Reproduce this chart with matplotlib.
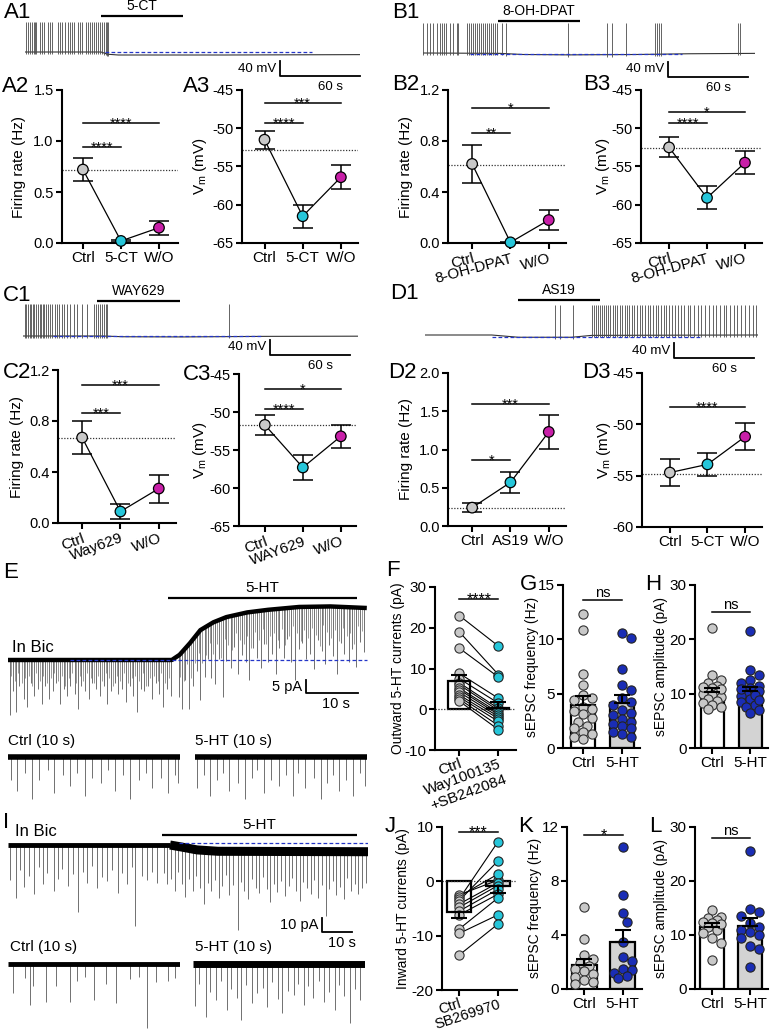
import numpy as np
import matplotlib
matplotlib.use("Agg")
import matplotlib.pyplot as plt

plt.rcParams['font.family'] = ['Liberation Sans', 'DejaVu Sans']
plt.rcParams['axes.unicode_minus'] = False
plt.rcParams['mathtext.fontset'] = 'custom'
plt.rcParams['mathtext.rm'] = 'Liberation Sans'
plt.rcParams['mathtext.it'] = 'Liberation Sans:italic'

# ---------------- data ----------------
GREY, CYAN, MAG, BLUE = '#c8c8c8', '#26c6da', '#c81fa8', '#1a2db5'
DOT_COLORS = [GREY, CYAN, MAG]

# current-clamp traces (s, mV)
A1_SPIKES = [1, 2.5, 4, 5, 6.5, 7.5, 8.5, 11.5, 13, 14.5, 17, 18.5, 20.5, 25, 26.5, 28, 30,
             32, 33.5, 35, 37, 39.5, 41, 42.5, 46, 47.5, 49, 50.5, 52, 53.5, 55, 56.5, 58,
             59.5, 60.5, 61.5, 62.5]
A1_BASE_T = [0, 57, 62, 70, 150, 251]
A1_BASE_V = [-52, -52, -58, -60, -60, -59]
B1_SPIKES = [0.3, 2.7, 5.2, 7.5, 10.2, 12.7, 14.5, 16, 17.5, 20.2, 22.5, 25.2, 26.5, 33, 34.5,
             36, 37.5, 39, 40.5, 42, 43.5, 45, 46.5, 48, 49.5, 51, 52.5, 54, 55.5, 59, 62,
             108.5, 137.7, 141.5, 152, 174, 175.5, 177, 178.5, 236, 237.5]
B1_BASE_T = [0, 58, 75, 110, 160, 200, 249]
B1_BASE_V = [-52, -53, -56, -57, -56, -54, -53]
C1_SPIKES = [1.5, 2.5, 3.5, 5, 6, 7.5, 8.5, 10, 11, 12.5, 13.5, 15, 16, 17.5, 18.5, 20, 21.5,
             24, 25.5, 27, 29, 31, 33, 35, 38.2, 40.5, 44.2, 48, 53.2, 54.5, 56, 57.5, 59,
             60.5, 62, 63, 154.5]
C1_BASE_T = [0, 60, 75, 120, 180, 251]
C1_BASE_V = [-52, -52, -54, -54.5, -53, -52.5]
D1_SPIKES = [97.5, 101, 111, 125, 126.5, 128, 129.5, 131, 132.5, 134, 135.5, 137, 139, 141,
             142.5, 144, 146, 148, 150, 151.5, 153, 155, 157, 159, 161, 163, 165, 167, 169,
             171, 173, 175, 177, 179, 181, 183, 185, 187.5, 190, 192, 194, 197, 199, 202, 205,
             207, 210, 213, 216, 218, 221, 224, 226, 229, 232, 234, 237, 240, 243, 246, 248.5]
D1_BASE_T = [0, 50, 70, 110, 125, 250]
D1_BASE_V = [-55, -55, -61, -61, -56, -55]

# dot panels: means, sem
A2_MEAN, A2_SEM = [0.72, 0.02, 0.15], [0.11, 0.01, 0.07]
A3_MEAN, A3_SEM = [-51.5, -61.5, -56.4], [1.2, 1.5, 1.6]
B2_MEAN, B2_SEM = [0.62, 0.005, 0.18], [0.15, 0.005, 0.08]
B3_MEAN, B3_SEM = [-52.5, -59.1, -54.5], [1.3, 1.5, 1.5]
C2_MEAN, C2_SEM = [0.67, 0.09, 0.27], [0.13, 0.06, 0.11]
C3_MEAN, C3_SEM = [-51.7, -57.3, -53.2], [1.3, 1.6, 1.5]
D2_MEAN, D2_SEM = [0.24, 0.57, 1.23], [0.06, 0.14, 0.22]
D3_MEAN, D3_SEM = [-54.7, -53.9, -51.2], [1.3, 1.1, 1.3]

# voltage-clamp traces (s, pA)
E_BASE_T = [0, 31.5, 33, 35, 37, 39.5, 42, 46, 50, 56, 62, 69]
E_BASE_I = [0, 0, 2, 6.5, 11.5, 14.5, 16.5, 18.3, 19.3, 20.4, 20.6, 20]
E_EV_T = [0.3, 1.0, 1.6, 2.2, 3.0, 3.6, 4.4, 5.0, 5.8, 6.5, 7.1, 7.9, 8.6, 9.2, 10.0, 10.7,
          11.3, 12.0, 12.8, 13.5, 14.1, 14.9, 15.6, 16.2, 17.0, 17.7, 18.4, 19.1, 19.9, 20.6,
          21.2, 22.0, 22.7, 23.4, 24.1, 24.9, 25.6, 26.2, 27.0, 27.7, 28.4, 29.1, 29.9, 30.6,
          31.3,
          32.8, 33.5, 34.1, 34.9, 35.6, 36.3, 37.0, 37.8, 38.5, 39.1, 39.9, 40.6, 41.3, 42.0,
          42.8, 43.5, 44.2, 45.0, 45.7, 46.4, 47.1, 47.9, 48.6, 49.3, 50.0, 50.8, 51.5, 52.2,
          53.0, 53.7, 54.4, 55.2, 55.9, 56.6, 57.4, 58.1, 58.8, 59.6, 60.3, 61.0, 61.8, 62.5,
          63.2, 64.0, 64.7, 65.5, 66.2, 67.0, 67.7, 68.4]
E_EV_A = [21, 12, 20, 10, 15, 18, 9, 14, 11, 17, 10, 15, 12, 9, 17, 11, 14, 10, 13, 19, 10,
          12, 15, 9, 11, 14, 10, 17, 12, 9, 13, 11, 16, 10, 14, 20, 11, 12, 10, 15, 9, 13, 18,
          11, 14,
          16, 22, 12, 25, 18, 14, 27, 19, 13, 21, 24, 15, 30, 17, 20, 12, 23, 16, 19, 26, 14,
          18, 22, 13, 20, 17, 25, 15, 19, 12, 21, 28, 16, 14, 20, 18, 24, 13, 17, 22, 15, 19,
          26, 14, 18, 21, 16, 23, 13, 17]
# smaller, denser events of the same recording
E_EV2_T = [0.65, 1.3, 1.95, 2.6, 3.3, 4.0, 4.7, 5.4, 6.1, 6.8, 7.5, 8.2, 8.9, 9.6, 10.35, 11.0,
           11.65, 12.4, 13.15, 13.8, 14.5, 15.25, 15.9, 16.6, 17.35, 18.05, 18.75, 19.5, 20.25,
           20.9, 21.6, 22.35, 23.05, 23.75, 24.5, 25.25, 25.9, 26.6, 27.35, 28.05, 28.75, 29.5,
           30.25, 30.95,
           33.15, 33.8, 34.5, 35.25, 35.95, 36.65, 37.4, 38.15, 38.8, 39.5, 40.25, 40.95,
           41.65, 42.4, 43.15, 43.85, 44.6, 45.35, 46.05, 46.75, 47.5, 48.25, 48.95, 49.65,
           50.4, 51.15, 51.85, 52.6, 53.35, 54.05, 54.8, 55.55, 56.25, 57.0, 57.75, 58.45,
           59.2, 59.95, 60.65, 61.4, 62.15, 62.85, 63.6, 64.35, 65.1, 65.85, 66.6, 67.35, 68.05]
E_EV2_A = [6, 8, 5, 9, 7, 6, 10, 5, 8, 6, 9, 7, 5, 8, 6, 10, 7, 5, 9, 6, 8, 5, 7, 9, 6, 8, 5,
           7, 10, 6, 8, 5, 9, 7, 6, 8, 5, 10, 7, 6, 8, 5, 9, 7,
           9, 12, 7, 14, 10, 8, 13, 11, 7, 12, 9, 15, 8, 11, 13, 7, 10, 12, 9, 14, 8, 11, 7,
           13, 10, 9, 12, 8, 14, 11, 7, 10, 13, 9, 12, 8, 11, 15, 7, 10, 12, 9, 13, 8, 11, 10,
           14, 7, 9]
E_CTRL10_T = [0.2, 0.55, 1.0, 1.4, 1.8, 2.3, 2.7, 3.2, 3.6, 4.0, 4.5, 4.9, 5.4, 5.8, 6.2, 6.7,
              7.1, 7.6, 8.0, 8.4, 8.9, 9.3, 9.7, 9.9]
E_CTRL10_A = [9, 13, 6, 16, 9, 5, 14, 7, 11, 6, 15, 8, 10, 5, 13, 7, 16, 9, 6, 12, 8, 14, 7, 10]
E_HT10_T = [0.1, 0.5, 0.9, 1.3, 1.6, 2.0, 2.5, 2.9, 3.3, 3.6, 4.0, 4.4, 4.9, 5.3, 5.7, 6.0,
            6.4, 6.9, 7.3, 7.7, 8.0, 8.4, 8.8, 9.2, 9.6, 9.9]
E_HT10_A = [12, 7, 15, 9, 6, 13, 10, 16, 8, 5, 14, 9, 11, 7, 15, 6, 12, 8, 16, 10, 7, 13, 9,
            15, 6, 11]

I_BASE_T = [0, 54, 58, 63, 70, 120]
I_BASE_I = [0, 0, -1.5, -3.5, -4.5, -4.8]
I_EV_T = [0.8, 2.5, 4.0, 5.2, 7.0, 8.5, 10.3, 11.5, 13.0, 15.2, 16.8, 18.0, 20.1, 21.6, 23.3,
          25.0, 26.4, 28.1, 29.8, 31.2, 33.0, 34.6, 36.5, 38.0, 39.6, 41.3, 42.3, 44.7, 46.2,
          48.0, 49.8,
          52.0, 53.1, 54.3, 55.6, 56.8, 58.0, 59.1, 60.4, 61.6, 62.8, 64.0, 65.3, 66.5, 67.7,
          68.9, 70.2, 71.4, 72.6, 73.8, 75.1, 76.7, 77.6, 78.8, 80.0, 81.3, 82.5, 83.7, 84.9,
          86.2, 87.4, 88.6, 89.8, 91.1, 92.3, 93.5, 94.7, 96.0, 97.2, 98.4, 99.6, 100.9, 102.1,
          103.3, 104.5, 106.0, 107.0, 108.2, 109.4, 110.6, 111.9, 113.1, 114.3, 115.5, 116.8,
          118.0, 119.2]
I_EV_A = [25, 38, 18, 30, 22, 35, 16, 28, 20, 33, 24, 17, 29, 21, 48, 19, 27, 15, 31, 23, 26,
          18, 34, 20, 28, 16, 58, 22, 25, 19, 27,
          20, 28, 24, 32, 18, 26, 35, 22, 30, 19, 27, 38, 23, 29, 21, 33, 25, 17, 31, 24, 56,
          22, 28, 34, 20, 26, 30, 18, 27, 36, 23, 29, 21, 32, 25, 19, 28, 35, 22, 26, 30, 20,
          33, 24, 46, 27, 21, 31, 25, 34, 19, 28, 23, 30, 26, 22]
I_CTRL10_T = [0.3, 1.0, 1.3, 1.45, 2.2, 2.8, 3.6, 4.0, 4.5, 5.0, 5.7, 6.3, 7.1, 7.6, 8.1, 8.6,
              9.3, 9.7]
I_CTRL10_A = [21, 10, 29, 16, 27, 16, 27, 12, 9, 26, 14, 28, 11, 9, 46, 13, 12, 10]
I_HT10_T = [0.1, 0.35, 0.75, 1.0, 1.35, 1.6, 1.95, 2.2, 2.55, 2.8, 3.1, 3.45, 3.7, 4.05, 4.3,
            4.6, 4.95, 5.2, 5.5, 5.85, 6.1, 6.45, 6.7, 7.0, 7.35, 7.6, 7.9, 8.25, 8.5, 8.8,
            9.15, 9.4, 9.7]
I_HT10_A = [30, 14, 38, 20, 26, 12, 33, 18, 24, 40, 15, 28, 21, 17, 31, 13, 25, 35, 19, 22,
            14, 29, 16, 24, 12, 27, 20, 33, 15, 23, 42, 18, 26]

# F, J paired currents (pA)
F_CTRL = [23, 19, 15, 8.8, 7.5, 6.5, 6, 5.2, 4.8, 4.2, 3.5, 3, 2.5, 2]
F_DRUG = [15.5, 8.5, 7.9, 2.7, 1.5, 0.2, -0.3, -0.8, -1.3, -1.8, -2.3, -3, -4, -5]
F_BAR, F_SEM = [6.9, 0.3], [1.6, 1.4]
J_CTRL = [-2.5, -2.8, -3.3, -3.6, -4.2, -4.8, -5.5, -6.2, -8.8, -9.6, -13.6]
J_DRUG = [0.2, 1.3, 7.2, 3.7, -0.3, -0.8, -1.5, -2.4, -3.1, -6.2, -7.9]
J_BAR, J_SEM = [-5.7, -0.9], [1.0, 1.2]

# G, H, K, L sEPSC
G_CTRL = [12.3, 10.9, 6.8, 5.8, 4.9, 4.4, 3.8, 3.4, 3.1, 2.8, 2.4, 2.0, 1.8, 1.5, 1.3, 1.0,
          0.8, 4.6, 3.6]
G_HT = [10.6, 10.1, 7.3, 5.8, 5.3, 4.6, 4.2, 3.5, 3.2, 3.0, 2.7, 2.4, 2.2, 2.0, 1.8, 1.5,
        1.3, 1.0, 4.0]
G_BAR, G_SEM = [4.0, 4.1], [0.8, 0.8]
H_CTRL = [22.1, 13.4, 12.5, 12, 11.5, 11, 10.5, 10.2, 10, 9.7, 9.3, 9, 8.7, 8.3, 8, 7.6, 7.2,
          10.8, 11.2]
H_HT = [21.5, 14.3, 13.5, 12.5, 12, 11.5, 11, 10.5, 10, 9.5, 9, 8.5, 8, 7.5, 7, 6.5, 10.8,
        9.8, 8.8]
H_BAR, H_SEM = [10.3, 10.4], [0.8, 0.9]
K_CTRL = [6.1, 3.7, 2.5, 2.2, 1.9, 1.7, 1.5, 1.3, 1.1, 0.9, 0.7, 0.5, 0.4]
K_HT = [10.5, 7.0, 5.6, 5.0, 3.5, 2.4, 2.1, 1.5, 1.4, 1.2, 1.0, 0.8]
K_BAR, K_SEM = [1.8, 3.5], [0.45, 0.85]
L_CTRL = [14.6, 13.4, 13.1, 12.8, 12.5, 12.2, 11.5, 10.9, 10.3, 9.4, 8.5, 5.4, 12.0]
L_HT = [25.6, 14.8, 14.3, 13.5, 12.3, 11.5, 11, 10.5, 10, 9.5, 8, 7.5, 4.1]
L_BAR, L_SEM = [11.5, 11.6], [0.7, 1.5]

# ---------------- helpers ----------------
W, H = 770, 1032
fig = plt.figure(figsize=(W / 100, H / 100), dpi=100)


def add_box(x0, y0, x1, y1):
    return fig.add_axes([x0 / W, 1 - y1 / H, (x1 - x0) / W, (y1 - y0) / H])


def ftext(x, y, s, **kw):
    kw.setdefault('va', 'center')
    fig.text(x / W, 1 - y / H, s, **kw)


def to_data(ax, x, y):
    return ax.transData.inverted().transform((x, H - y))


def trace_ax(x0, x1, y0, y1, pps, ppu, yref, vref):
    ax = add_box(x0, y0, x1, y1)
    ax.set_xlim(0, (x1 - x0) / pps)
    ax.set_ylim(vref - (y1 - yref) / ppu, vref + (yref - y0) / ppu)
    ax.axis('off')
    return ax


def scalebar(ax, x, y, dx, dy, ylab, xlab, fs=9.5, xoff=10):
    t0, v0 = to_data(ax, x, y)
    ax.plot([t0, t0, t0 + dx], [v0 + dy, v0, v0], color='k', lw=1.3, clip_on=False)
    hx = ax.transData.transform((t0 + dx, v0))[0] - x
    vy = H - ax.transData.transform((t0, v0 + dy))[1]
    ftext(x - 4, (y + vy) / 2, ylab, ha='right', fontsize=fs)
    ftext(x + hx / 2 + xoff, y + 11, xlab, ha='center', fontsize=fs)


def drugbar(ax, t0, t1, ypx, label, fs=10):
    _, v = to_data(ax, 0, ypx)
    ax.plot([t0, t1], [v, v], color='k', lw=1.6, clip_on=False, solid_capstyle='butt')
    ax.annotate(label, ((t0 + t1) / 2, v), xytext=(0, 2.5), textcoords='offset points',
                ha='center', va='bottom', fontsize=fs)


def blue_dash(ax, t0, t1, v):
    ax.plot([t0, t1], [v, v], color='#2436c8', ls=(0, (3, 1.8)), lw=0.9, zorder=5)


def spike_trace(ax, bt, bv, spikes, peak):
    ax.plot(bt, bv, color='#333', lw=0.8)
    vb = np.interp(spikes, bt, bv)
    ax.vlines(spikes, vb - 5, peak, color='#4a4a4a', lw=0.6)


def events(ax, bt, bi, ev_t, ev_a, color='#5a5a5a'):
    n = min(len(ev_t), len(ev_a))
    ib = np.interp(ev_t[:n], bt, bi)
    ax.vlines(ev_t[:n], ib - np.asarray(ev_a[:n]), ib, color=color, lw=0.6)


def baseline(ax, bt, bi, lw=3.2, lw2=None, t_switch=None):
    bt, bi = np.asarray(bt, float), np.asarray(bi, float)
    if t_switch is None:
        ax.plot(bt, bi, color='k', lw=lw, solid_capstyle='butt')
        return
    k = int(np.searchsorted(bt, t_switch, side='right'))
    ax.plot(bt[:k], bi[:k], color='k', lw=lw, solid_capstyle='butt')
    ax.plot(bt[k - 1:], bi[k - 1:], color='k', lw=lw2, solid_capstyle='butt')


def style(ax, fs):
    for s in ['top', 'right']:
        ax.spines[s].set_visible(False)
    for s in ['left', 'bottom']:
        ax.spines[s].set_linewidth(1.5)
    ax.tick_params(width=1.5, length=4.5, labelsize=fs, pad=1.5)


def sigbar(ax, i, j, y, s, fs=10):
    ax.plot([i, j], [y, y], color='k', lw=1.1, clip_on=False)
    if s == 'ns':
        ax.annotate(s, ((i + j) / 2, y), xytext=(0, 2), textcoords='offset points',
                    ha='center', va='baseline', fontsize=fs)
    else:
        ax.annotate(s, ((i + j) / 2, y), xytext=(0, -3.5), textcoords='offset points',
                    ha='center', va='baseline', fontsize=fs + 1)


def set_ylab(ax, box, text, xpx, fs):
    ax.set_ylabel(text, fontsize=fs, va='center')
    ax.yaxis.set_label_coords((xpx - box[0]) / (box[2] - box[0]), 0.5)


def set_xlabels(ax, labels, rot, fs):
    ax.set_xticks(np.arange(len(labels)))
    if rot:
        ax.set_xticklabels(labels, rotation=rot, ha='right', rotation_mode='anchor',
                           fontsize=fs, ma='right')
    else:
        ax.set_xticklabels(labels, fontsize=fs)


def dot_panel(box, xlim, ylim, yticks, yfmt, labels, means, errs, ref, sigs, ylabel, ylab_x,
              rot=0):
    ax = add_box(*box)
    style(ax, 10.5)
    x = np.arange(len(means))
    ax.axhline(ref, color='#333', ls=(0, (1, 1.3)), lw=0.9, zorder=1)
    ax.plot(x, means, color='k', lw=0.9, zorder=2)
    ax.errorbar(x, means, yerr=errs, fmt='none', ecolor='k', elinewidth=1.1, capsize=7,
                capthick=1.1, zorder=3)
    ax.scatter(x, means, s=58, c=DOT_COLORS, edgecolors='k', linewidths=0.9, zorder=4,
               clip_on=False)
    ax.set_xlim(xlim)
    ax.set_ylim(ylim)
    ax.set_yticks(yticks)
    ax.set_yticklabels([yfmt.format(v) for v in yticks])
    set_xlabels(ax, labels, rot, 11)
    for i, j, y, s in sigs:
        sigbar(ax, i, j, y, s, 9.5)
    set_ylab(ax, box, ylabel, ylab_x, 11)
    return ax


def swarm(vals, xc, ppx, ppy, diam=9.0, maxw=13.0):
    vals = np.asarray(vals, float)
    placed, xs = [], np.zeros(len(vals))
    steps = [0.0]
    for k in range(1, 8):
        steps += [k * diam * 0.5, -k * diam * 0.5]
    steps = [s for s in steps if abs(s) <= maxw]
    for i in np.argsort(vals)[::-1]:
        y = vals[i] * ppy
        best = None
        for off in steps:
            if all((off - px) ** 2 + (y - py) ** 2 >= (diam * 0.95) ** 2 for px, py in placed):
                best = off
                break
        if best is None:
            best = max(steps, key=lambda o: min((o - px) ** 2 + (y - py) ** 2
                                                for px, py in placed))
        placed.append((best, y))
        xs[i] = xc + best / ppx
    return xs


def bar_panel(box, xlim, ylim, yticks, labels, bars, sems, ctrl, drug, drug_color, bar_color,
              sig, ylabel, ylab_x, rot=0, paired=False, width=0.6, xfs=11):
    ax = add_box(*box)
    style(ax, 11)
    ax.set_xlim(xlim)
    ax.set_ylim(ylim)
    ppx = (box[2] - box[0]) / (xlim[1] - xlim[0])
    ppy = (box[3] - box[1]) / (ylim[1] - ylim[0])
    x = np.arange(2)
    ax.bar(x, bars, width=width, color=['white', bar_color], edgecolor='k', linewidth=1.6,
           zorder=1)
    if paired:
        ax.axhline(0, color='#333', ls=(0, (1, 1.3)), lw=0.9, zorder=1.5)
        for a, b in zip(ctrl, drug):
            ax.plot([0, 1], [a, b], color='k', lw=0.8, zorder=2)
        xc = np.zeros(len(ctrl))
        xd = np.ones(len(drug))
    else:
        xc = swarm(ctrl, 0, ppx, ppy)
        xd = swarm(drug, 1, ppx, ppy)
    ax.scatter(xc, ctrl, s=44, c=GREY, edgecolors='#333', linewidths=0.8, zorder=3,
               clip_on=False)
    ax.scatter(xd, drug, s=44, c=drug_color, edgecolors='#222', linewidths=0.8, zorder=3,
               clip_on=False)
    lo = [s if b < 0 else 0 for b, s in zip(bars, sems)]
    hi = [s if b >= 0 else 0 for b, s in zip(bars, sems)]
    ax.errorbar(x, bars, yerr=[lo, hi], fmt='none', ecolor='k', elinewidth=1.5, capsize=6,
                capthick=1.5, zorder=4)
    ax.set_yticks(yticks)
    set_xlabels(ax, labels, rot, xfs)
    if rot:
        ax.tick_params(axis='x', pad=0.5)
    sigbar(ax, 0, 1, sig[0], sig[1], 10.5)
    set_ylab(ax, box, ylabel, ylab_x, 10)
    return ax


VM = 'V$_\\mathrm{m}$ (mV)'
FR = 'Firing rate (Hz)'
PPS_CC, PPU_CC = 80 / 60, 15 / 40

# ---------------- A ----------------
ax = trace_ax(25, 360, 12, 80, PPS_CC, PPU_CC, 52, -52)
spike_trace(ax, A1_BASE_T, A1_BASE_V, A1_SPIKES, 28)
blue_dash(ax, 60, 215, -52)
drugbar(ax, 57, 118.5, 16, '5-CT')
scalebar(ax, 280, 76, 60, 40, '40 mV', '60 s')

dot_panel((62, 90, 178, 243), (-0.55, 2.5), (0, 1.5), [0, 0.5, 1.0, 1.5], '{:.1f}',
          ['Ctrl', '5-CT', 'W/O'], A2_MEAN, A2_SEM, 0.72,
          [(0, 1, 0.94, '****'), (0, 2, 1.18, '****')], FR, 19)
dot_panel((242, 90, 358, 243), (-0.59, 2.45), (-65, -45), [-65, -60, -55, -50, -45], '{:.0f}',
          ['Ctrl', '5-CT', 'W/O'], A3_MEAN, A3_SEM, -52.8,
          [(0, 1, -49.3, '****'), (0, 2, -46.7, '***')], VM, 200)

# ---------------- B ----------------
ax = trace_ax(423, 755, 12, 80, PPS_CC, PPU_CC, 53, -52)
spike_trace(ax, B1_BASE_T, B1_BASE_V, B1_SPIKES, 28)
blue_dash(ax, 35, 194, -54.5)
drugbar(ax, 56, 118, 21, '8-OH-DPAT')
scalebar(ax, 668, 77, 60, 40, '40 mV', '60 s')

dot_panel((448, 90, 566, 243), (-0.63, 2.45), (0, 1.2), [0, 0.4, 0.8, 1.2], '{:.1f}',
          ['Ctrl', '8-OH-DPAT', 'W/O'], B2_MEAN, B2_SEM, 0.61,
          [(0, 1, 0.865, '**'), (0, 2, 1.056, '*')], FR, 406, rot=15)
dot_panel((641, 90, 762, 243), (-0.74, 2.45), (-65, -45), [-65, -60, -55, -50, -45], '{:.0f}',
          ['Ctrl', '8-OH-DPAT', 'W/O'], B3_MEAN, B3_SEM, -52.6,
          [(0, 1, -49.3, '****'), (0, 2, -47.9, '*')], VM, 603, rot=15)

# ---------------- C ----------------
ax = trace_ax(23, 358, 296, 356, PPS_CC, PPU_CC, 336, -52)
spike_trace(ax, C1_BASE_T, C1_BASE_V, C1_SPIKES, 33)
blue_dash(ax, 22.5, 180, -51)
drugbar(ax, 55.5, 117.8, 301, 'WAY629')
scalebar(ax, 270, 355, 60, 40, '40 mV', '60 s')

dot_panel((58, 370, 176, 523), (-0.63, 2.45), (0, 1.2), [0, 0.4, 0.8, 1.2], '{:.1f}',
          ['Ctrl', 'Way629', 'W/O'], C2_MEAN, C2_SEM, 0.67,
          [(0, 1, 0.865, '***'), (0, 2, 1.08, '***')], FR, 17, rot=20)
dot_panel((239, 374, 356, 526), (-0.68, 2.4), (-65, -45), [-65, -60, -55, -50, -45], '{:.0f}',
          ['Ctrl', 'WAY629', 'W/O'], C3_MEAN, C3_SEM, -51.7,
          [(0, 1, -49.6, '****'), (0, 2, -47.0, '*')], VM, 200, rot=20)

# ---------------- D ----------------
ax = trace_ax(425, 758, 296, 358, PPS_CC, PPU_CC, 335, -55)
spike_trace(ax, D1_BASE_T, D1_BASE_V, D1_SPIKES, 25)
blue_dash(ax, 50, 208, -61)
drugbar(ax, 70, 131, 300, 'AS19')
scalebar(ax, 674, 358, 60, 40, '40 mV', '60 s')

dot_panel((448, 373, 566, 526), (-0.63, 2.45), (0, 2.0), [0, 0.5, 1.0, 1.5, 2.0], '{:.1f}',
          ['Ctrl', 'AS19', 'W/O'], D2_MEAN, D2_SEM, 0.24,
          [(0, 1, 0.86, '*'), (0, 2, 1.6, '***')], FR, 406)
dot_panel((642, 373, 762, 527), (-0.74, 2.45), (-60, -45), [-60, -55, -50, -45], '{:.0f}',
          ['Ctrl', '5-CT', 'W/O'], D3_MEAN, D3_SEM, -54.8,
          [(0, 2, -48.3, '****')], VM, 604)

# ---------------- E ----------------
ax = trace_ax(8, 368, 575, 725, 5.2, 2.6, 660, 0)
events(ax, E_BASE_T, E_BASE_I, E_EV2_T, E_EV2_A, color='#8a8a8a')
events(ax, E_BASE_T, E_BASE_I, E_EV_T, E_EV_A)
baseline(ax, E_BASE_T, E_BASE_I, lw=3.2)
blue_dash(ax, 11.9, 69, 0)
drugbar(ax, 30.8, 67.1, 598, '5-HT', fs=11)
scalebar(ax, 306, 693, 10, 5, '5 pA', '10 s', fs=10.5, xoff=4)
ftext(12, 647, 'In Bic', fontsize=12)

ax = trace_ax(8, 180, 745, 810, 17.2, 2.6, 757, 0)
events(ax, [0, 10], [0, 0], E_CTRL10_T, E_CTRL10_A)
baseline(ax, [0, 10], [0, 0], lw=4)
ax = trace_ax(195, 368, 745, 810, 17.2, 2.6, 757, 0)
events(ax, [0, 10], [0, 0], E_HT10_T, E_HT10_A)
baseline(ax, [0, 10], [0, 0], lw=4)
ftext(8, 741, 'Ctrl (10 s)', fontsize=11)
ftext(195, 741, '5-HT (10 s)', fontsize=11)

# ---------------- I ----------------
ax = trace_ax(8, 368, 812, 945, 3.0, 1.4, 845, 0)
events(ax, I_BASE_T, I_BASE_I, I_EV_T, I_EV_A)
baseline(ax, I_BASE_T, I_BASE_I, lw=3.5, lw2=6.5, t_switch=54)
blue_dash(ax, 57, 120, 1.5)
drugbar(ax, 51.3, 116.3, 835, '5-HT', fs=11)
scalebar(ax, 322, 932, 10, 10, '10 pA', '10 s', fs=10.5, xoff=5)
ftext(15, 831, 'In Bic', fontsize=12)

ax = trace_ax(8, 180, 955, 1032, 17.2, 1.4, 964, 0)
events(ax, [0, 10], [0, 0], I_CTRL10_T, I_CTRL10_A)
baseline(ax, [0, 10], [0, 0], lw=3.5)
ax = trace_ax(193, 365, 955, 1032, 17.2, 1.4, 964, 0)
events(ax, [0, 10], [0, 0], I_HT10_T, I_HT10_A)
baseline(ax, [0, 10], [0, 0], lw=5)
ftext(10, 947, 'Ctrl (10 s)', fontsize=11)
ftext(195, 947, '5-HT (10 s)', fontsize=11)

# ---------------- F - L ----------------
bar_panel((435, 587, 516, 750), (-0.62, 1.45), (-10, 30), [-10, 0, 10, 20, 30],
          ['Ctrl', 'Way100135\n+SB242084'], F_BAR, F_SEM, F_CTRL, F_DRUG, CYAN, '#d9d9d9',
          (27, '****'), 'Outward 5-HT currents (pA)', 398, rot=20, paired=True, width=0.56)
bar_panel((563, 585, 640, 748), (-0.51, 1.46), (0, 15), [0, 5, 10, 15], ['Ctrl', '5-HT'],
          G_BAR, G_SEM, G_CTRL, G_HT, BLUE, '#d3d3d3', (13.6, 'ns'),
          'sEPSC frequency (Hz)', 532, width=0.62)
bar_panel((695, 585, 768, 748), (-0.45, 1.47), (0, 30), [0, 10, 20, 30], ['Ctrl', '5-HT'],
          H_BAR, H_SEM, H_CTRL, H_HT, BLUE, '#d3d3d3', (25, 'ns'),
          'sEPSC amplitude (pA)', 661, width=0.6)
bar_panel((442, 827, 517, 990), (-0.44, 1.5), (-20, 10), [-20, -10, 0, 10],
          ['Ctrl', 'SB269970'], J_BAR, J_SEM, J_CTRL, J_DRUG, CYAN, '#d9d9d9',
          (9, '***'), 'Inward 5-HT currents (pA)', 403, rot=18, paired=True, width=0.62,
          xfs=10.5)
bar_panel((567, 827, 642, 989), (-0.45, 1.5), (0, 12), [0, 4, 8, 12], ['Ctrl', '5-HT'],
          K_BAR, K_SEM, K_CTRL, K_HT, BLUE, '#d3d3d3', (11.4, '*'),
          'sEPSC frequency (Hz)', 535, width=0.64)
bar_panel((695, 827, 768, 989), (-0.45, 1.47), (0, 30), [0, 10, 20, 30], ['Ctrl', '5-HT'],
          L_BAR, L_SEM, L_CTRL, L_HT, BLUE, '#d3d3d3', (28, 'ns'),
          'sEPSC amplitude (pA)', 661, width=0.62)

# ---------------- panel letters ----------------
LETTERS = [('A1', 4, 12), ('B1', 392, 12), ('A2', 2, 86), ('A3', 183, 86), ('B2', 392, 85),
           ('B3', 583, 85), ('C1', 3, 295), ('D1', 390, 293), ('C2', 3, 372), ('C3', 183, 375),
           ('D2', 388, 373), ('D3', 582, 373), ('E', 3, 573), ('F', 386, 571), ('G', 520, 584),
           ('H', 645, 584), ('I', 3, 822), ('J', 385, 827), ('K', 518, 827), ('L', 649, 826)]
for s, x, y in LETTERS:
    ftext(x, y, s, fontsize=16)

fig.savefig('out.png', dpi=100)
